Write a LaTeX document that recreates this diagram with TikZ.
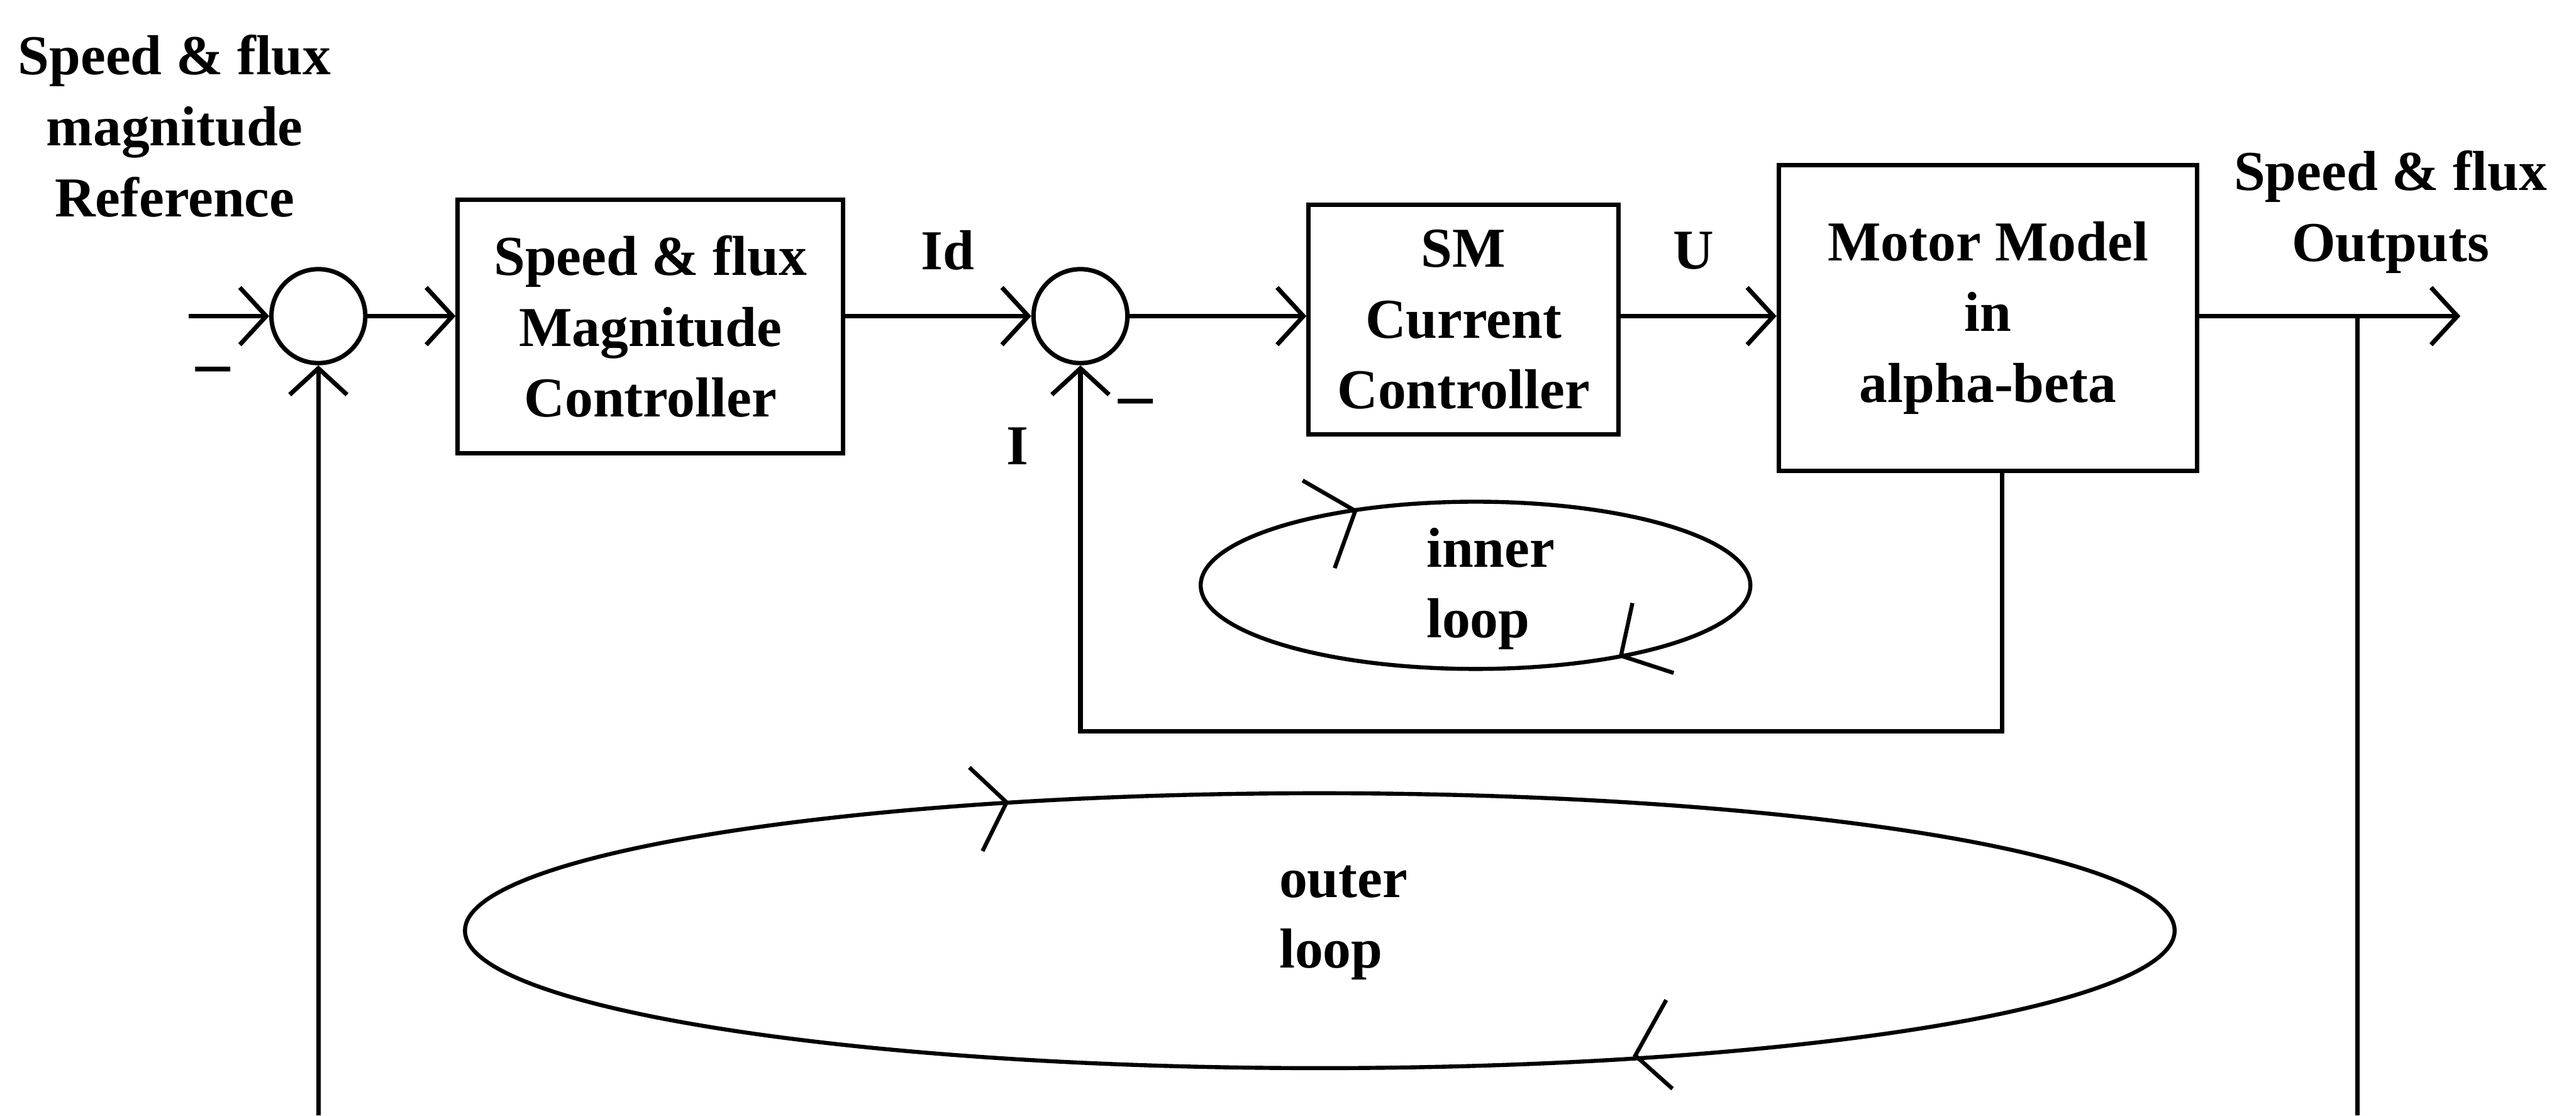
\documentclass[tikz,border=0pt]{standalone}
\usepackage{fontspec}
\setmainfont{Liberation Serif}
\usetikzlibrary{arrows.meta,calc}

\begin{document}
\begin{tikzpicture}[line width=1.1pt,
  every node/.style={font=\fontsize{14}{17.6}\selectfont\bfseries},
  block/.style={draw, align=center, inner sep=0pt},
  sumnode/.style={draw, circle, minimum size=8.2mm, inner sep=0pt},
  sig/.style={-{Straight Barb[length=2.3mm,width=5mm]}},
  loopline/.style={line width=1pt}]
  \useasboundingbox (0,0) rectangle (22.495,9.74);

  % blocks and summing points
  \node[sumnode] (s1) at (2.78,6.98) {};
  \node[block, minimum width=3.365cm, minimum height=2.215cm] (ctrl) at (5.68,6.89)
  {Speed \& flux\\Magnitude\\Controller};
  \node[sumnode] (s2) at (9.435,6.98) {};
  \node[block, minimum width=2.705cm, minimum height=2.005cm] (smc) at (12.78,6.95)
  {SM\\Current\\Controller};
  \node[block, minimum width=3.655cm, minimum height=2.67cm] (motor) at (17.36,6.965)
  {Motor Model\\in\\alpha-beta};

  % labels
  \node[align=center] (ref) at (1.525,8.64) {Speed \& flux\\magnitude\\Reference};
  \node[align=center] (outs) at (20.875,7.89) {Speed \& flux\\Outputs};
  \node (id) at (8.275,7.555) {Id};
  \node (u) at (14.79,7.55) {U};
  \node (i) at (8.885,5.845) {I};
  \node[font=\fontsize{17}{17}\selectfont\bfseries] (m1) at (1.86,6.455) {–};
  \node[font=\fontsize{17}{17}\selectfont\bfseries] (m2) at (9.915,6.175) {–};

  % forward path
  \coordinate (in) at (1.65,6.98);
  \coordinate (out) at (21.485,6.98);
  \draw[sig] (in) -- (s1);
  \draw[sig] (s1) -- (s1 -| ctrl.west);
  \draw[sig] (s1 -| ctrl.east) -- (s2);
  \draw[sig] (s2) -- (s2 -| smc.west);
  \draw[sig] (s2 -| smc.east) -- (s2 -| motor.west);
  \draw[sig] (s2 -| motor.east) -- (out);

  % feedback paths
  \coordinate (fbi) at (9.435,3.355);
  \draw[sig] ([xshift=1.25mm]motor.south) |- (fbi) -- (s2.south);
  \coordinate (tap) at (20.585,6.98);
  \coordinate (botR) at (20.585,0);
  \coordinate (botL) at (2.78,0);
  \draw (tap) -- (botR);
  \draw[sig] (botL) -- (s1.south);

  % inner loop
  \draw[loopline] (12.885,4.63) ellipse (2.4 and 0.73);
  \draw[loopline] (11.375,5.545) -- (11.835,5.28) -- (11.655,4.78);
  \draw[loopline] (14.255,4.475) -- (14.155,4.015) -- (14.615,3.865);
  \node[anchor=west, align=left] (inner) at (12.32,4.6) {inner\\loop};

  % outer loop
  \draw[loopline] (11.525,1.615) ellipse (7.465 and 1.2);
  \draw[loopline] (8.465,3.04) -- (8.79,2.735) -- (8.58,2.31);
  \draw[loopline] (14.55,1.01) -- (14.28,0.525) -- (14.605,0.235);
  \node[anchor=west, align=left] (outer) at (11.035,1.685) {outer\\loop};
\end{tikzpicture}
\end{document}
